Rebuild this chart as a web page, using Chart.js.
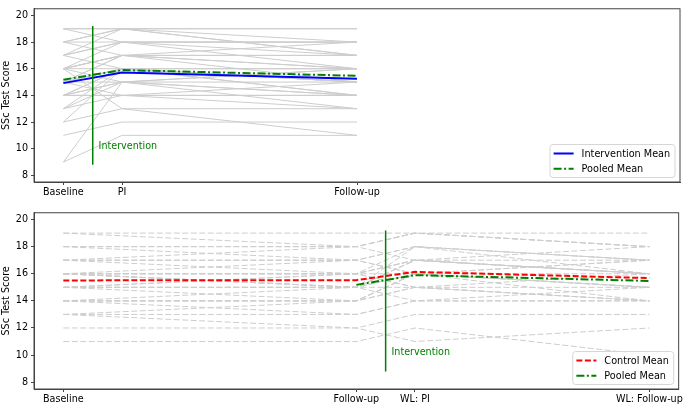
<!DOCTYPE html>
<html lang="en">
<head>
  <meta charset="UTF-8">
  <title>SSc Test Score</title>
  <script src="https://cdn.jsdelivr.net/npm/chart.js"></script>
  <style>
    body { margin: 0; background: #fff; }
    .panel { position: absolute; left: 0; }
  </style>
</head>
<body>
  <canvas id="topChart" class="panel" width="685" height="204" style="top:0"></canvas>
  <canvas id="bottomChart" class="panel" width="685" height="204" style="top:204px"></canvas>

  <script>
    // x positions of the measurement points
    const topLabels = ['Baseline', 'PI', 'Follow-up'];
    const topX = [0, 1, 5];
    const bottomLabels = ['Baseline', 'Follow-up', 'WL: PI', 'WL: Follow-up'];
    const bottomX = [0, 5, 6, 10];
    const yTicks = [8, 10, 12, 14, 16, 18, 20];

    // intervention group: Baseline, PI, Follow-up
    const interventionScores = [
      [9, 15, 14], [9, 11, 11], [11, 12, 12], [12, 13, 11], [13, 14, 13],
      [13, 15, 14], [14, 14, 15], [14, 15, 15], [14, 16, 14], [16, 13, 13],
      [15, 16, 16], [15, 17, 15], [15, 14, 14], [16, 17, 17], [16, 15, 16],
      [16, 18, 17], [17, 16, 16], [17, 18, 18], [17, 19, 18], [18, 17, 17],
      [18, 19, 19], [19, 18, 18], [19, 19, 17], [14, 16, 15], [15, 16, 14],
      [16, 17, 16], [18, 19, 17], [17, 18, 16], [16, 17, 18], [15, 17, 16],
      [14, 15, 16], [13, 16, 15], [15, 15, 13], [12, 16, 15], [19, 19, 19],
      [16, 16, 15], [18, 18, 18], [14, 14, 14]
    ];
    // waitlist control group: Baseline, Follow-up, WL: PI, WL: Follow-up
    const controlScores = [
      [19, 19, 19, 19], [19, 18, 19, 18], [18, 18, 17, 18], [18, 17, 18, 17],
      [17, 17, 18, 17], [17, 16, 17, 17], [17, 18, 19, 18], [16, 16, 17, 16],
      [16, 15, 16, 15], [16, 17, 16, 17], [16, 16, 15, 16], [16, 15, 17, 16],
      [16, 16, 16, 14], [15, 15, 16, 16], [15, 14, 16, 15], [15, 16, 15, 15],
      [15, 15, 18, 16], [14, 14, 15, 14], [14, 15, 14, 15], [14, 14, 16, 15],
      [14, 13, 14, 14], [16, 15, 17, 16], [13, 14, 15, 14], [13, 12, 13, 13],
      [12, 12, 11, 12], [11, 11, 12, 10], [18, 18, 19, 18], [17, 17, 16, 17],
      [16, 16, 18, 17], [15, 15, 17, 16], [14, 14, 16, 15], [15, 16, 17, 16],
      [16, 15, 15, 14], [13, 13, 14, 14]
    ];

    const interventionMean = [14.92, 15.71, 15.25];
    const pooledMean = [15.18, 15.90, 15.47];
    const controlMean = [15.51, 15.53, 16.14, 15.68];

    // intervention marker: x, y range (10%..90% of axis), label y
    const topMarkerX = 0.5;
    const bottomMarkerX = 5.5;
    const markerY = [8.8, 19.2];
    const markerTextY = 10;

    Chart.defaults.font.family = 'DejaVu Sans';
    Chart.defaults.font.size = 9.6;
    Chart.defaults.color = '#000';

    const GRAY = '#cdcdcd';
    const DASH = [6, 2.5];
    const DASHDOT = [8, 2.5, 2, 2.5];

    function pts(xs, ys) {
      return xs.map((x, i) => ({ x: x, y: ys[i] }));
    }

    // matplotlib-like frame, intervention text and legend
    const extras = {
      id: 'extras',
      afterDraw(chart, args, opts) {
        const ctx = chart.ctx;
        const a = chart.chartArea;
        const xs = chart.scales.x, ys = chart.scales.y;
        ctx.save();
        ctx.strokeStyle = '#444';
        ctx.lineWidth = 1;
        ctx.strokeRect(a.left, a.top, a.right - a.left, a.bottom - a.top);

        ctx.fillStyle = 'green';
        ctx.font = '9.6px "DejaVu Sans"';
        ctx.textBaseline = 'alphabetic';
        ctx.fillText('Intervention', xs.getPixelForValue(opts.markerX + 0.1), ys.getPixelForValue(markerTextY));

        // legend in lower right
        const items = opts.legend;
        ctx.font = '9.7px "DejaVu Sans"';
        const tw = Math.max(...items.map(it => ctx.measureText(it.text).width));
        const w = 3.6 + 20 + 8 + tw + 4.8;
        const h = 33;
        const x0 = a.right - 5 - w;
        const y0 = a.bottom - 4.5 - h;
        ctx.beginPath();
        ctx.roundRect(x0, y0, w, h, 3);
        ctx.fillStyle = 'rgba(255,255,255,0.8)';
        ctx.fill();
        ctx.strokeStyle = '#d6d6d6';
        ctx.lineWidth = 1;
        ctx.stroke();
        items.forEach((it, i) => {
          const cy = y0 + 9 + i * 15.3;
          ctx.beginPath();
          ctx.setLineDash(it.dash);
          ctx.strokeStyle = it.color;
          ctx.lineWidth = 2;
          ctx.moveTo(x0 + 3.6, cy);
          ctx.lineTo(x0 + 23.6, cy);
          ctx.stroke();
          ctx.setLineDash([]);
          ctx.fillStyle = '#000';
          ctx.textBaseline = 'middle';
          ctx.fillText(it.text, x0 + 31.6, cy + 0.5);
        });
        ctx.restore();
      }
    };

    function scales(tickX, tickLabels, xHeight) {
      return {
        x: {
          type: 'linear', min: -0.5, max: 10.5,
          afterBuildTicks: s => { s.ticks = tickX.map(v => ({ value: v })); },
          afterFit: s => { s.height = xHeight; },
          ticks: { autoSkip: false, maxRotation: 0, padding: 2,
                   callback: v => tickLabels[tickX.indexOf(v)] },
          grid: { drawOnChartArea: false, tickLength: 3, color: '#444' },
          border: { color: '#444' }
        },
        y: {
          min: 7.5, max: 20.5,
          afterBuildTicks: s => { s.ticks = yTicks.map(v => ({ value: v })); },
          afterFit: s => { s.width = 34; },
          ticks: { padding: 3 },
          grid: { drawOnChartArea: false, tickLength: 3, color: '#444' },
          border: { color: '#444' },
          title: { display: true, text: 'SSc Test Score', padding: { top: 1, bottom: 0 } }
        }
      };
    }

    const topSets = [
      { data: [{ x: topMarkerX, y: markerY[0] }, { x: topMarkerX, y: markerY[1] }],
        borderColor: 'green', borderWidth: 1.5, order: 0 },
      { data: pts(topX, pooledMean), borderColor: 'green', borderWidth: 2, borderDash: DASHDOT, order: 1 },
      { data: pts(topX, interventionMean), borderColor: 'blue', borderWidth: 2, order: 2 }
    ].concat(interventionScores.map(s => ({
      data: pts(topX, s), borderColor: GRAY, borderWidth: 1, order: 3
    })));

    const bottomSets = [
      { data: [{ x: bottomMarkerX, y: markerY[0] }, { x: bottomMarkerX, y: markerY[1] }],
        borderColor: 'green', borderWidth: 1.5, order: 0 },
      { data: pts(bottomX.slice(1), pooledMean), borderColor: 'green', borderWidth: 2, borderDash: DASHDOT, order: 1 },
      { data: pts(bottomX, controlMean), borderColor: 'red', borderWidth: 2, borderDash: DASH, order: 2 }
    ].concat(controlScores.map(s => ({
      data: pts(bottomX, s), borderColor: GRAY, borderWidth: 1, borderDash: DASH, order: 3
    })));

    function common(extra) {
      return {
        responsive: false,
        animation: false,
        events: [],
        elements: { point: { radius: 0 }, line: { tension: 0 } },
        plugins: { legend: { display: false }, tooltip: { enabled: false }, extras: extra }
      };
    }

    const topOpts = common({
      markerX: topMarkerX,
      legend: [
        { text: 'Intervention Mean', color: 'blue', dash: [] },
        { text: 'Pooled Mean', color: 'green', dash: DASHDOT }
      ]
    });
    topOpts.layout = { padding: { top: 2, right: 5, left: 0, bottom: 0 } };
    topOpts.scales = scales(topX, topLabels, 22);

    const bottomOpts = common({
      markerX: bottomMarkerX,
      legend: [
        { text: 'Control Mean', color: 'red', dash: DASH },
        { text: 'Pooled Mean', color: 'green', dash: DASHDOT }
      ]
    });
    bottomOpts.layout = { padding: { top: 6, right: 5, left: 0, bottom: 0 } };
    bottomOpts.scales = scales(bottomX, bottomLabels, 19);

    new Chart(document.getElementById('topChart'), {
      type: 'line', data: { datasets: topSets }, options: topOpts, plugins: [extras]
    });
    new Chart(document.getElementById('bottomChart'), {
      type: 'line', data: { datasets: bottomSets }, options: bottomOpts, plugins: [extras]
    });
  </script>
</body>
</html>
